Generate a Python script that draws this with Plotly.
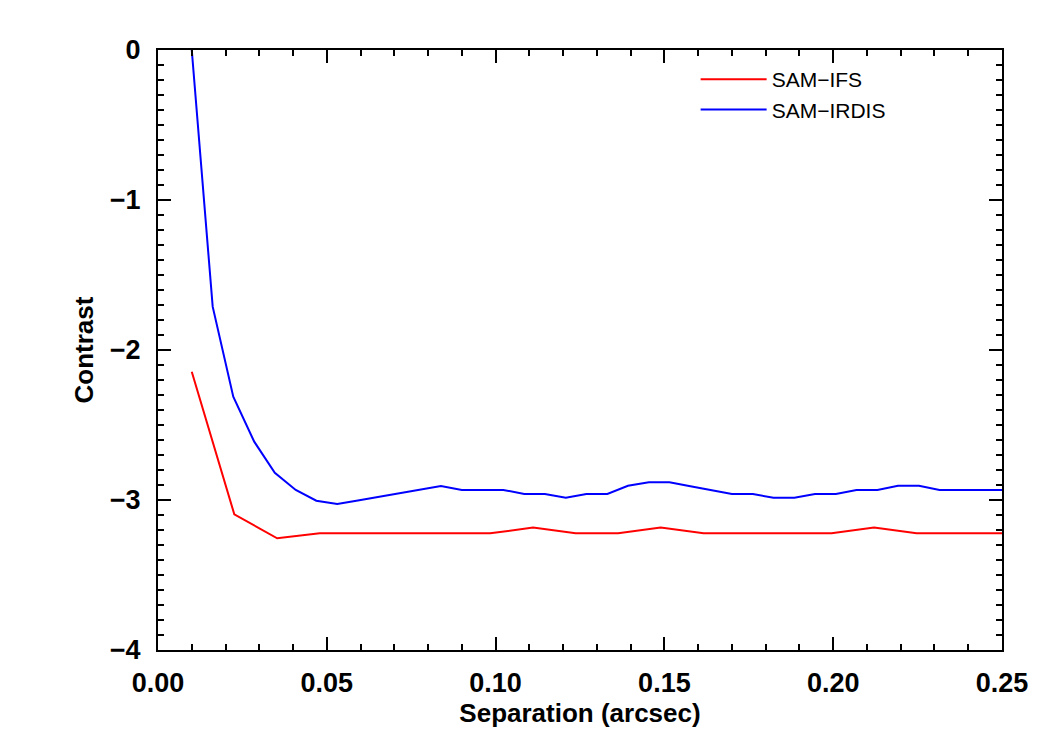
import plotly.graph_objects as go

# Separation (arcsec) sample positions
sep_ifs = [0.0100, 0.0226, 0.0353, 0.0479, 0.0605, 0.0732, 0.0858, 0.0984, 0.1111, 0.1237,
           0.1363, 0.1489, 0.1616, 0.1742, 0.1868, 0.1995, 0.2121, 0.2247, 0.2374, 0.2500]
contrast_ifs = [-2.145, -3.095, -3.255, -3.222, -3.222, -3.222, -3.222, -3.222, -3.184, -3.222,
                -3.222, -3.184, -3.222, -3.222, -3.222, -3.222, -3.184, -3.222, -3.222, -3.222]

sep_irdis = [0.0100, 0.0162, 0.0223, 0.0285, 0.0346, 0.0408, 0.0469, 0.0531, 0.0592, 0.0654,
             0.0715, 0.0777, 0.0838, 0.0900, 0.0962, 0.1023, 0.1085, 0.1146, 0.1208, 0.1269,
             0.1331, 0.1392, 0.1454, 0.1515, 0.1577, 0.1638, 0.1700, 0.1762, 0.1823, 0.1885,
             0.1946, 0.2008, 0.2069, 0.2131, 0.2192, 0.2254, 0.2315, 0.2377, 0.2438, 0.2500]
contrast_irdis = [0.000, -1.711, -2.311, -2.611, -2.818, -2.933, -3.005, -3.027, -3.003, -2.979,
                  -2.955, -2.931, -2.907, -2.933, -2.933, -2.933, -2.960, -2.960, -2.985, -2.960,
                  -2.960, -2.905, -2.882, -2.882, -2.909, -2.934, -2.960, -2.960, -2.985, -2.985,
                  -2.960, -2.960, -2.933, -2.933, -2.905, -2.905, -2.933, -2.933, -2.933, -2.933]

x_tickvals = [0.00, 0.05, 0.10, 0.15, 0.20, 0.25]
x_ticktext = ["0.00", "0.05", "0.10", "0.15", "0.20", "0.25"]
y_tickvals = [0, -1, -2, -3, -4]
y_ticktext = ["0", "\u22121", "\u22122", "\u22123", "\u22124"]

FONT = "Liberation Sans, Arial, sans-serif"

fig = go.Figure()
fig.add_trace(go.Scatter(x=sep_ifs, y=contrast_ifs, mode="lines", name="SAM\u2212IFS",
                         line=dict(color="#ff0000", width=2)))
fig.add_trace(go.Scatter(x=sep_irdis, y=contrast_irdis, mode="lines", name="SAM\u2212IRDIS",
                         line=dict(color="#0000ff", width=2)))

axis_common = dict(
    showline=True, linecolor="black", linewidth=2, mirror="allticks",
    ticks="inside", ticklen=13, tickwidth=2, tickcolor="black",
    showgrid=False, zeroline=False,
    tickfont=dict(family=FONT, size=27, color="black", weight="bold"),
)

fig.update_layout(
    width=1050, height=750,
    margin=dict(l=158, r=48, t=50, b=100),
    paper_bgcolor="white", plot_bgcolor="white",
    xaxis=dict(range=[0, 0.25], tickvals=x_tickvals, ticktext=x_ticktext,
               minor=dict(ticks="inside", ticklen=6, tickwidth=2, tickcolor="black", dtick=0.01),
               ticklabelstandoff=8,
               title=dict(text="Separation (arcsec)", standoff=4,
                          font=dict(family=FONT, size=26, color="black", weight="bold")),
               **axis_common),
    yaxis=dict(range=[-4, 0], tickvals=y_tickvals, ticktext=y_ticktext,
               minor=dict(ticks="inside", ticklen=6, tickwidth=2, tickcolor="black", dtick=0.1),
               ticklabelstandoff=10,
               title=dict(text="Contrast", standoff=9,
                          font=dict(family=FONT, size=26, color="black", weight="bold")),
               **axis_common),
    legend=dict(x=0.637, y=0.985, xanchor="left", yanchor="top",
                bgcolor="rgba(0,0,0,0)", borderwidth=0, itemwidth=66,
                font=dict(family=FONT, size=21, color="black"),
                tracegroupgap=0),
    showlegend=True,
)

fig.write_html("out.html")
